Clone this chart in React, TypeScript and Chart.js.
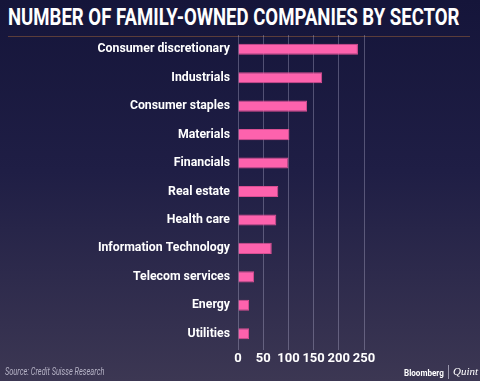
import React, { useEffect, useRef } from "react";
import { Chart, registerables } from "chart.js";

Chart.register(...registerables);

const categories = [
  "Consumer discretionary",
  "Industrials",
  "Consumer staples",
  "Materials",
  "Financials",
  "Real estate",
  "Health care",
  "Information Technology",
  "Telecom services",
  "Energy",
  "Utilities",
];
const companies = [238, 167, 137, 102, 100, 80, 76, 67, 32, 22, 22];
const xTicks = [0, 50, 100, 150, 200, 250];

export default function App() {
  const ref = useRef<HTMLCanvasElement | null>(null);
  useEffect(() => {
    if (!ref.current) return;
    const chart = new Chart(ref.current, {
      type: "bar",
      data: {
        labels: categories,
        datasets: [
          {
            data: companies,
            backgroundColor: "#fd62ad",
            borderColor: "#d84e92",
            borderWidth: 1,
            barPercentage: 0.78,
            categoryPercentage: 0.5,
          },
        ],
      },
      options: {
        indexAxis: "y",
        animation: false,
        responsive: false,
        maintainAspectRatio: false,
        layout: { padding: { top: 35, right: 116, left: 0, bottom: 0 } },
        plugins: { legend: { display: false }, tooltip: { enabled: false } },
        scales: {
          x: {
            min: 0,
            max: 250,
            afterBuildTicks: (s: any) => {
              s.ticks = xTicks.map((v) => ({ value: v }));
            },
            afterFit: (s: any) => {
              s.height = 33;
            },
            border: { display: false },
            grid: {
              color: "rgba(190,185,215,0.35)",
              lineWidth: 1,
              drawTicks: true,
              tickLength: 2,
            },
            ticks: {
              color: "#ffffff",
              padding: 1,
              maxRotation: 0,
              minRotation: 0,
              autoSkip: false,
              font: { family: "Roboto", weight: "bold", size: 13 },
            },
          },
          y: {
            afterFit: (s: any) => {
              s.width = 238;
            },
            border: { display: false },
            grid: { display: false, drawTicks: false },
            ticks: {
              color: "#ffffff",
              padding: 8,
              font: { family: "Roboto", weight: "bold", size: 12.3 },
            },
          },
        },
      },
    });
    return () => chart.destroy();
  }, []);

  return (
    <div
      style={{
        position: "fixed",
        left: 0,
        top: 0,
        width: 480,
        height: 381,
        overflow: "hidden",
        background: "linear-gradient(180deg, #15153a 0%, #1f1e45 45%, #3c3753 100%)",
        fontFamily: "Roboto, sans-serif",
      }}
    >
      <div
        style={{
          position: "absolute",
          left: 8,
          top: 5,
          fontSize: 23,
          fontWeight: 700,
          color: "#ffffff",
          whiteSpace: "nowrap",
          lineHeight: "26px",
          transform: "scaleX(0.807)",
          transformOrigin: "left top",
        }}
      >
        NUMBER OF FAMILY-OWNED COMPANIES BY SECTOR
      </div>
      <div
        style={{
          position: "absolute",
          left: 8,
          top: 36,
          width: 462,
          height: 1,
          background: "#5b3d3a",
        }}
      />
      <canvas
        ref={ref}
        width={480}
        height={381}
        style={{ position: "absolute", left: 0, top: 0 }}
      />
      <div
        style={{
          position: "absolute",
          left: 5,
          top: 366,
          fontSize: 10,
          fontStyle: "italic",
          color: "#b4b1c4",
          whiteSpace: "nowrap",
          transform: "scaleX(0.74)",
          transformOrigin: "left top",
        }}
      >
        Source: Credit Suisse Research
      </div>
      <div
        style={{
          position: "absolute",
          left: 404,
          top: 367,
          fontSize: 9.5,
          fontWeight: 700,
          color: "#ffffff",
          whiteSpace: "nowrap",
          transform: "scaleX(0.85)",
          transformOrigin: "left top",
        }}
      >
        Bloomberg
      </div>
      <div
        style={{
          position: "absolute",
          left: 448,
          top: 365,
          width: 1,
          height: 14,
          background: "#9a97ad",
        }}
      />
      <div
        style={{
          position: "absolute",
          left: 453,
          top: 365,
          fontSize: 11,
          fontStyle: "italic",
          fontFamily: "'Liberation Serif', serif",
          color: "#ffffff",
          whiteSpace: "nowrap",
        }}
      >
        Quint
      </div>
    </div>
  );
}
